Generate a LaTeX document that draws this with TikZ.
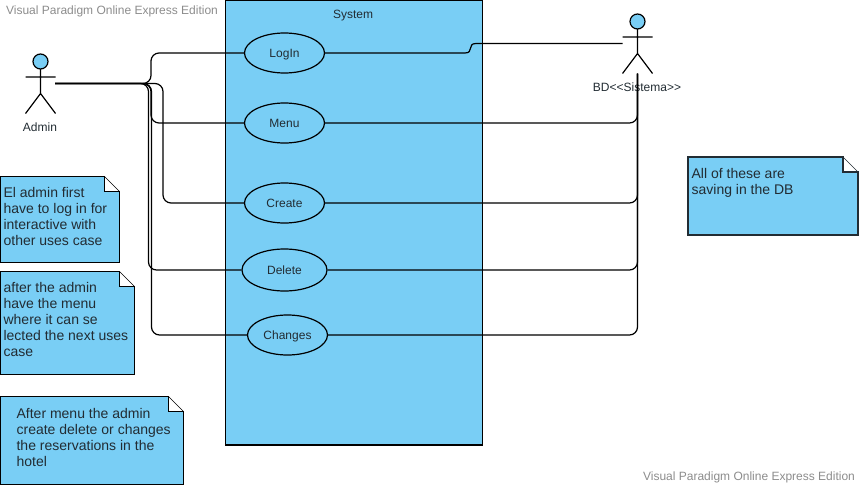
\documentclass[tikz,border=0pt]{standalone}
\usepackage{fontspec}
\setmainfont{Liberation Sans}
\usepackage{tikz}
\usetikzlibrary{shapes}
\tikzset{
	usecase/.style  = {draw, ellipse, fill=sysblue, inner sep=0pt,
		minimum width = 80pt,
		minimum height = 40pt},
	sysbox/.style   = {draw, rectangle, fill=sysblue, inner sep=0pt},
	notecard/.style = {draw, fill=sysblue},
	notetext/.style = {anchor=north west, inner sep=0pt, align=left, text=textdark,
		font=\fontsize{14}{16}\selectfont},
	small/.style    = {text=textdark, inner sep=0pt, text height=8pt, text depth=0pt,
		font=\fontsize{12}{14}\selectfont},
	stamp/.style    = {small, text=gray!90},
	link/.style     = {draw, rounded corners=8pt},
	actorman/.pic   = {
		\draw[fill=sysblue] (0,-15.5) circle (7.5);
		\draw (0,-8) -- (0,16.5) (-15,0) -- (15,0) (-15,36.5) -- (0,16.5) -- (15,36.5);
	},
}
\definecolor{sysblue}{HTML}{79CEF5}
\definecolor{textdark}{HTML}{222C33}
\newcommand{\foldnote}[5][black]{%
	\draw[notecard, draw=#1] (#2,#3) -- ({#4-15},#3) -- ({#4-15},{#3+15}) -- (#4,{#3+15}) -- (#4,#5) -- (#2,#5) -- cycle;
	\draw[draw=#1, line width=.6pt] ({#4-15},#3) -- (#4,{#3+15});
}

\begin{document}
\begin{tikzpicture}[ x=1pt, y=-1pt,                    %<--one unit is one pixel of the picture
                       line width=1.2pt ]              %<--setting line style
    \useasboundingbox (0,0) rectangle (861,487);

    %Drawing the System box:
    \draw
    	node(sys) at (354,222.5) [sysbox, minimum width=257pt, minimum height=445pt] {}
    	node(sysname) at (353,14.5) [small] {System}
    ;

    %Drawing the notes:
    \foldnote{0.5}{176.5}{119.5}{262.5}
    \foldnote{0.5}{271.5}{134.5}{374.5}
    \foldnote{0.5}{396.5}{183.5}{484.5}
    \begin{scope}[line width=1.8pt]
    \foldnote[textdark]{688}{157}{858}{235}
    \end{scope}

    %Drawing the actors:
    \draw pic at (40.5,77) {actorman};
    \draw pic at (637.5,37) {actorman};

    \draw%-----------------------------------------------------------------------------------------
    	%Drawing the Use Cases:
    	node(login) at (284.5,53) [usecase, small] {LogIn}
    	node(menu) at (284.5,123) [usecase, small] {Menu}
    	node(create) at (284.5,203) [usecase, small] {Create}
    	node(delete) at (284.5,270) [usecase, small, minimum width=85pt, minimum height=42pt] {Delete}
    	node(changes) at (287.5,335) [usecase, small] {Changes}
    	%Drawing the Actor Labels:
    	node(adminlabel) at (40,127.5) [small] {Admin}
    	node(bdlabel) at (637,87.5) [small] {BD<{}<Sistema>{}>}
    	%Drawing the Free Ends:
    	node[shape=coordinate][](adminhand) at (55,83.5){}
    	node[shape=coordinate][](bdhand) at (622.5,43.5){}
    	node[shape=coordinate][](bdfoot) at (637.5,73.5){}
    	%Drawing the Bends:
    	node[shape=coordinate][](buslogin) at (151,68){}
    	node[shape=coordinate][](busmenu) at (151,100){}
    	node[shape=coordinate][](buscreate) at (163,140){}
    	node[shape=coordinate][](busdelete) at (148.5,180){}
    	node[shape=coordinate][](buschanges) at (151.5,200){}
    	node[shape=coordinate][](bdstepa) at (465,53){}
    	node[shape=coordinate][](bdstepb) at (476,43.5){}
    	%Drawing the Note Texts:
    	node(note1) at (3,186.5) [notetext] {El admin first\\have to log in for\\interactive with\\other uses case}
    	node(note2) at (3,281.5) [notetext] {after the admin\\have the menu\\where it can se\\lected the next uses\\case}
    	node(note3) at (16,407.5) [notetext] {After menu the admin\\create delete or changes\\the reservations in the\\hotel}
    	node(note4) at (691,167.5) [notetext] {All of these are\\saving in the DB}
    	%Drawing the Watermarks:
    	node(markleft) at (112,10.5) [stamp] {Visual Paradigm Online Express Edition}
    	node(markright) at (749,476) [stamp] {Visual Paradigm Online Express Edition}
    ;%---------------------------------------------------------------------------------------------

    %Joining the Admin
  	\draw[link] (adminhand) -| (buslogin) |- (login);
  	\draw[link] (adminhand) -| (busmenu) |- (menu);
  	\draw[link] (adminhand) -| (buscreate) |- (create);
  	\draw[link] (adminhand) -| (busdelete) |- (delete);
  	\draw[link] (adminhand) -| (buschanges) |- (changes);

    %Joining the BD
  	\draw (login) -- (bdstepa) to[out=0, in=180, looseness=1.6] (bdstepb) -- (bdhand);
  	\draw[link] (menu) -| (bdfoot);
  	\draw[link] (create) -| (bdfoot);
  	\draw[link] (delete) -| (bdfoot);
  	\draw[link] (changes) -| (bdfoot);
  \end{tikzpicture}
\end{document}
